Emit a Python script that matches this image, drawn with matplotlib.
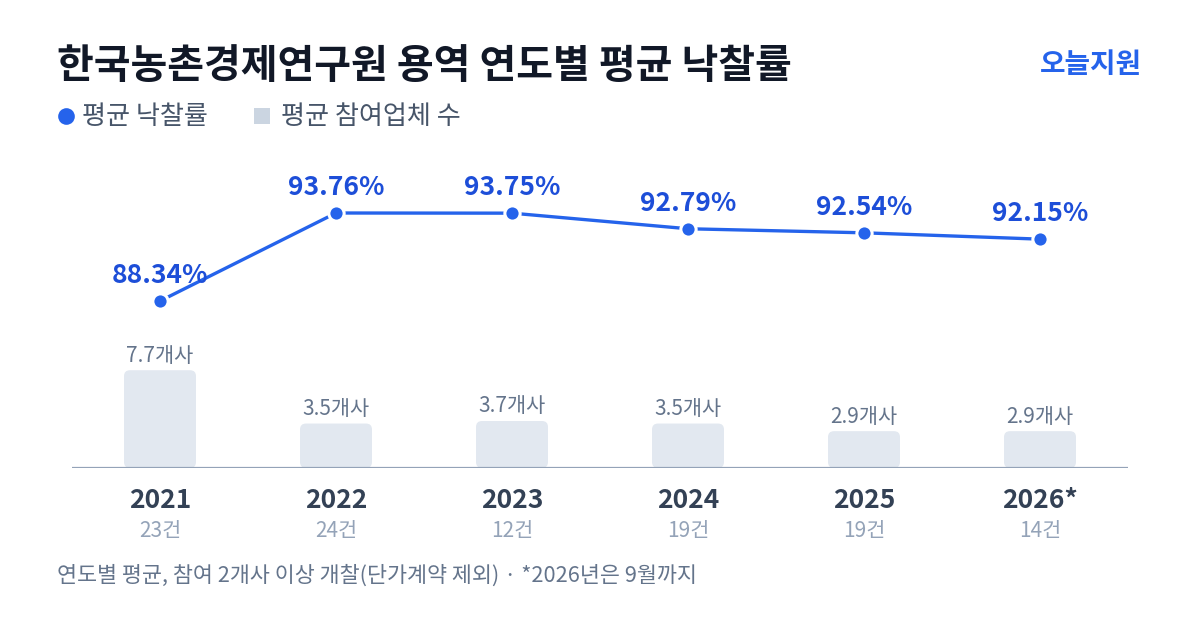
import numpy as np
import matplotlib.pyplot as plt
from matplotlib.patches import FancyBboxPatch, Rectangle
from matplotlib.lines import Line2D

plt.rcParams['font.family'] = ['Noto Sans CJK KR', 'DejaVu Sans']

years = ['2021', '2022', '2023', '2024', '2025', '2026*']
rates = [88.34, 93.76, 93.75, 92.79, 92.54, 92.15]
bidders = [7.7, 3.5, 3.7, 3.5, 2.9, 2.9]
counts = [23, 24, 12, 19, 19, 14]

W, H = 1200, 630
fig = plt.figure(figsize=(12, 6.3), dpi=100)
fig.patch.set_facecolor('white')

# 플롯 영역 (픽셀 기준 72~1128, 150~468)
left, right, top, bottom = 72, 1128, 150, 468
rect = [left / W, 1 - bottom / H, (right - left) / W, (bottom - top) / H]
axb = fig.add_axes(rect)
axl = fig.add_axes(rect)
for a in (axb, axl):
    a.set_xlim(-0.5, 5.5)
    a.axis('off')
axl.patch.set_alpha(0)

x = np.arange(len(years))

# 막대 (참여업체 수)
ymax_b = 25.04
axb.set_ylim(0, ymax_b)
bw = 72 / 176
px_x = 176
px_y = (bottom - top) / ymax_b
for xi, v in zip(x, bidders):
    p = FancyBboxPatch((xi - bw / 2, 0), bw, v,
                       boxstyle='round,pad=0,rounding_size=0.034',
                       mutation_aspect=px_x / px_y,
                       fc='#e2e8f0', ec='none', zorder=1)
    axb.add_patch(p)
    axb.annotate(f'{v}개사', (xi, v), xytext=(0, 10.5), textcoords='offset points',
                 ha='center', va='center', fontsize=15, color='#64748b')
axb.axhline(0, color='#94a3b8', lw=1.6, zorder=2)

# 선 (평균 낙찰률)
axl.set_ylim(93.76 - (bottom - 213) / 16.24, 93.76 + (213 - top) / 16.24)
axl.plot(x, rates, color='#2563eb', lw=2.4, zorder=3,
         marker='o', ms=11, mfc='#2563eb', mec='white', mew=2.2)
for xi, v in zip(x, rates):
    axl.annotate(f'{v:.2f}%', (xi, v), xytext=(0, 18.5), textcoords='offset points',
                 ha='center', va='center', fontsize=19, fontweight='bold',
                 color='#1d4ed8')

# 연도 / 건수
for xi, yr, c in zip(x, years, counts):
    axb.annotate(yr, (xi, 0), xytext=(0, -23.5), textcoords='offset points',
                 ha='center', va='center', fontsize=19, fontweight='bold',
                 color='#334155', annotation_clip=False)
    axb.annotate(f'{c}건', (xi, 0), xytext=(0, -45.5), textcoords='offset points',
                 ha='center', va='center', fontsize=15, color='#94a3b8',
                 annotation_clip=False)

# 제목, 브랜드
fig.text(57 / W, 1 - 66 / H, '한국농촌경제연구원 용역 연도별 평균 낙찰률',
         fontsize=28.8, fontweight='bold', color='#111827', va='center', ha='left')
fig.text(1142 / W, 1 - 65 / H, '오늘지원', fontsize=20, fontweight='bold',
         color='#2563eb', va='center', ha='right')

# 범례
fig.lines.append(Line2D([66 / W], [1 - 116 / H], transform=fig.transFigure,
                        marker='o', ms=12, mfc='#2563eb', mec='none', ls='none'))
fig.text(82 / W, 1 - 116 / H, '평균 낙찰률', fontsize=18.8, color='#475569', va='center')
fig.patches.append(Rectangle((254 / W, 1 - 124 / H), 16 / W, 16 / H,
                             transform=fig.transFigure, fc='#cbd5e1', ec='none'))
fig.text(281 / W, 1 - 116 / H, '평균 참여업체 수', fontsize=18.8, color='#475569', va='center')

# 각주
fig.text(57 / W, 1 - 576 / H, '연도별 평균, 참여 2개사 이상 개찰(단가계약 제외) · *2026년은 9월까지',
         fontsize=15.7, color='#64748b', va='center')

fig.savefig('out.png', dpi=100)
